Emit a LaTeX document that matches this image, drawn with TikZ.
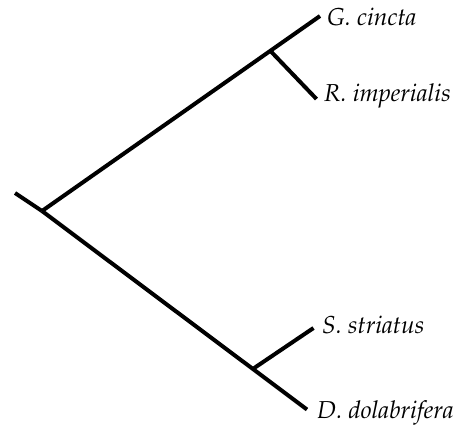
\documentclass[tikz,border=0pt]{standalone}
\usepackage[T1]{fontenc}
\usepackage{mathpazo}
\begin{document}
\begin{tikzpicture}[x=1pt,y=-1pt,
  branch/.style={line width=4pt, black},
  taxon/.style={font=\fontsize{24.5}{28}\selectfont\itshape, inner sep=0pt, anchor=base west}]
\useasboundingbox (0,0) rectangle (460,428);
\coordinate (stub) at (15,193);
\coordinate (root) at (42,211);
\coordinate (up) at (270.5,51);
\coordinate (down) at (253.5,368.5);
\coordinate (gtip) at (320,16);
\coordinate (rtip) at (316.5,99);
\coordinate (stip) at (313.5,328);
\coordinate (dtip) at (307,409.5);
\node[taxon] (gc) at (327,26) {G. cincta};
\node[taxon] (ri) at (324,101) {R. imperialis};
\node[taxon] (ss) at (322,333) {S. striatus};
\node[taxon] (dd) at (317,418) {D. dolabrifera};
\draw[branch] (stub) -- (root);
\draw[branch] (root) -- (gtip);
\draw[branch] (up) -- (rtip);
\draw[branch] (root) -- (dtip);
\draw[branch] (down) -- (stip);
\end{tikzpicture}
\end{document}
